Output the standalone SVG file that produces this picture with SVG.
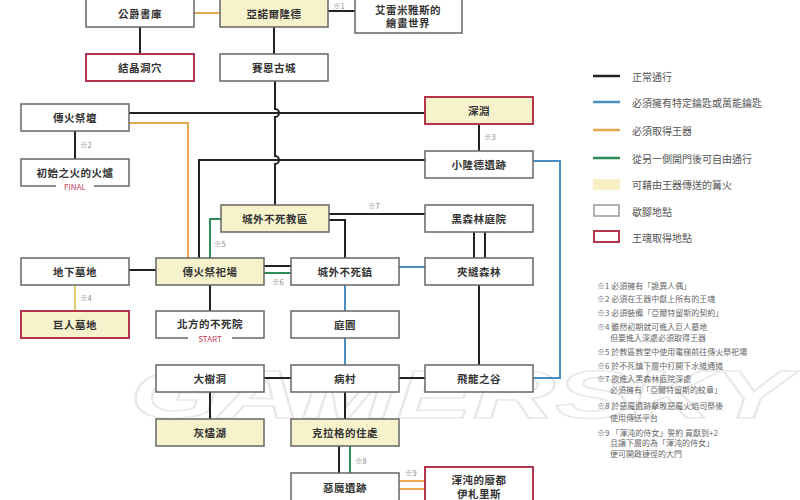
<svg xmlns="http://www.w3.org/2000/svg" width="800" height="500" viewBox="0 0 800 500">
<style>
.n rect{fill:#fff;stroke:#666;stroke-width:1.5}
.n.y rect{fill:#f6f2cc}
.n.r rect{stroke:#b4364c;stroke-width:2}
.t{font-family:"Noto Sans CJK TC","Noto Sans CJK SC",sans-serif;font-weight:bold;font-size:10.5px;fill:#333;text-anchor:middle;dominant-baseline:central;letter-spacing:0.5px}
.tag{font-family:"Noto Sans CJK TC",sans-serif;font-size:8px;fill:#c2405a;text-anchor:middle;dominant-baseline:central}
.c path,.c line{fill:none;stroke-width:2}
.k{stroke:#222}
.b{stroke:#4a8dc0}
.o{stroke:#e8a850}
.g{stroke:#2e8b57}
.yl{stroke:#e2cf72}
.s{font-family:"Noto Sans CJK TC",sans-serif;font-size:7.5px;fill:#888}
.lg{font-family:"Noto Sans CJK TC",sans-serif;font-size:10px;fill:#555;dominant-baseline:central}
.nt{font-family:"Noto Sans CJK TC",sans-serif;font-size:8px;fill:#666;dominant-baseline:central}
.wm{font-family:"Liberation Sans",sans-serif;font-weight:bold;font-style:italic;font-size:68px;fill:none;stroke:#e8e8e8;stroke-width:1.5}
</style>
<rect width="800" height="500" fill="#fff"/>
<text class="wm" x="130" y="418" textLength="660" lengthAdjust="spacingAndGlyphs">GAMERSKY</text>

<g class="c" id="connectors">
<line class="o" x1="194" y1="13" x2="220" y2="13"/>
<line class="k" x1="328" y1="11" x2="355" y2="11"/>
<line class="k" x1="140" y1="27" x2="140" y2="54"/>
<line class="k" x1="274" y1="27" x2="274" y2="54"/>
<path class="k" d="M275 81 V109 a4 4 0 0 1 0 8 V156 a4 4 0 0 1 0 8 V205"/>
<line class="k" x1="129" y1="113" x2="425" y2="113"/>
<path class="o" d="M129 123 H188 V258"/>
<line class="k" x1="75" y1="131" x2="75" y2="159"/>
<path class="k" d="M199 258 V160 H425"/>
<path class="g" d="M210 258 V219 H221"/>
<line class="k" x1="264" y1="266" x2="291" y2="266"/>
<line class="g" x1="264" y1="273" x2="291" y2="273"/>
<line class="k" x1="129" y1="270" x2="156" y2="270"/>
<line class="k" x1="210" y1="285" x2="210" y2="311"/>
<line class="yl" x1="75" y1="285" x2="75" y2="311"/>
<line class="k" x1="329" y1="214" x2="425" y2="214"/>
<path class="k" d="M329 220 H345 V258"/>
<line class="k" x1="474" y1="232" x2="474" y2="258"/>
<line class="k" x1="485" y1="232" x2="485" y2="258"/>
<line class="b" x1="399" y1="267" x2="425" y2="267"/>
<line class="b" x1="345" y1="285" x2="345" y2="311"/>
<line class="b" x1="345" y1="338" x2="345" y2="365"/>
<line class="k" x1="479" y1="285" x2="479" y2="365"/>
<path class="b" d="M533 161 H560 V378 H533"/>
<line class="k" x1="479" y1="124" x2="479" y2="151"/>
<line class="k" x1="264" y1="378" x2="291" y2="378"/>
<line class="k" x1="399" y1="378" x2="425" y2="378"/>
<line class="k" x1="210" y1="392" x2="210" y2="419"/>
<line class="k" x1="345" y1="392" x2="345" y2="419"/>
<line class="k" x1="339" y1="446" x2="339" y2="473"/>
<line class="g" x1="350" y1="446" x2="350" y2="473"/>
<line class="o" x1="399" y1="481" x2="425" y2="481"/>
<line class="o" x1="399" y1="489" x2="425" y2="489"/>
<text class="s" x="333" y="9">※1</text>
<text class="s" x="80" y="148">※2</text>
<text class="s" x="484" y="140">※3</text>
<text class="s" x="80" y="301">※4</text>
<text class="s" x="214" y="247">※5</text>
<text class="s" x="272" y="285">※6</text>
<text class="s" x="368" y="209">※7</text>
<text class="s" x="355" y="464">※8</text>
<text class="s" x="405" y="476">※9</text>
</g>

<g class="n" id="gongjue"><rect x="86" y="-2" width="108" height="29"/><text class="t" x="140" y="13">公爵書庫</text></g>
<g class="n y" id="yanuo"><rect x="220" y="-2" width="108" height="29"/><text class="t" x="274" y="13">亞諾爾隆德</text></g>
<g class="n" id="aileimi"><rect x="355" y="-2" width="107" height="35"/><text class="t" x="408" y="9">艾雷米雅斯的</text><text class="t" x="408" y="22">繪畫世界</text></g>
<g class="n r" id="jiejing"><rect x="86" y="54" width="108" height="27"/><text class="t" x="140" y="67.5">結晶洞穴</text></g>
<g class="n" id="saien"><rect x="220" y="54" width="108" height="27"/><text class="t" x="274" y="67.5">賽恩古城</text></g>
<g class="n" id="jitan"><rect x="21" y="104" width="108" height="27"/><text class="t" x="75" y="117.5">傳火祭壇</text></g>
<g class="n" id="chushi"><rect x="21" y="159" width="108" height="27"/><text class="t" x="75" y="172">初始之火的火爐</text><rect x="56" y="181" width="38" height="10" style="stroke:none"/><text class="tag" x="75" y="186">FINAL</text></g>
<g class="n y r" id="shenyuan"><rect x="425" y="97" width="108" height="27"/><text class="t" x="479" y="110.5">深淵</text></g>
<g class="n" id="xiaolongde"><rect x="425" y="151" width="108" height="27"/><text class="t" x="479" y="164.5">小隆德遺跡</text></g>
<g class="n y" id="jiaoqu"><rect x="221" y="205" width="108" height="27"/><text class="t" x="275" y="218.5">城外不死教區</text></g>
<g class="n" id="heisenlin"><rect x="425" y="205" width="108" height="27"/><text class="t" x="479" y="218.5">黑森林庭院</text></g>
<g class="n y" id="jisichang"><rect x="156" y="258" width="108" height="27"/><text class="t" x="210" y="271.5">傳火祭祀場</text></g>
<g class="n" id="bushizhen"><rect x="291" y="258" width="108" height="27"/><text class="t" x="345" y="271.5">城外不死鎮</text></g>
<g class="n" id="jiafeng"><rect x="425" y="258" width="108" height="27"/><text class="t" x="479" y="271.5">夾縫森林</text></g>
<g class="n" id="dixia"><rect x="21" y="258" width="108" height="27"/><text class="t" x="75" y="271.5">地下墓地</text></g>
<g class="n y r" id="juren"><rect x="21" y="311" width="108" height="27"/><text class="t" x="75" y="324.5">巨人墓地</text></g>
<g class="n" id="beifang"><rect x="156" y="311" width="108" height="27"/><text class="t" x="210" y="323">北方的不死院</text><rect x="188" y="333" width="44" height="10" style="stroke:none"/><text class="tag" x="210" y="338">START</text></g>
<g class="n" id="tingyuan"><rect x="291" y="311" width="108" height="27"/><text class="t" x="345" y="324.5">庭園</text></g>
<g class="n" id="dashudong"><rect x="156" y="365" width="108" height="27"/><text class="t" x="210" y="378.5">大樹洞</text></g>
<g class="n" id="bingcun"><rect x="291" y="365" width="108" height="27"/><text class="t" x="345" y="378.5">病村</text></g>
<g class="n" id="feilong"><rect x="425" y="365" width="108" height="27"/><text class="t" x="479" y="378.5">飛龍之谷</text></g>
<g class="n y" id="huijin"><rect x="156" y="419" width="108" height="27"/><text class="t" x="210" y="432.5">灰燼湖</text></g>
<g class="n y" id="kelage"><rect x="291" y="419" width="108" height="27"/><text class="t" x="345" y="432.5">克拉格的住處</text></g>
<g class="n" id="emo"><rect x="291" y="473" width="108" height="30"/><text class="t" x="345" y="487">惡魔遺跡</text></g>
<g class="n r" id="yizha"><rect x="425" y="467" width="108" height="36"/><text class="t" x="479" y="479">渾沌的廢都</text><text class="t" x="479" y="493">伊札里斯</text></g>

<g id="legend">
<line x1="593" y1="76" x2="620" y2="76" stroke="#222" stroke-width="2.5"/>
<text class="lg" x="632" y="76">正常通行</text>
<line x1="593" y1="102" x2="620" y2="102" stroke="#4a8dc0" stroke-width="2.5"/>
<text class="lg" x="632" y="102">必須擁有特定鑰匙或萬能鑰匙</text>
<line x1="593" y1="130" x2="620" y2="130" stroke="#e8a850" stroke-width="2.5"/>
<text class="lg" x="632" y="130">必須取得王器</text>
<line x1="593" y1="158" x2="620" y2="158" stroke="#2e8b57" stroke-width="2.5"/>
<text class="lg" x="632" y="158">從另一側開門後可自由通行</text>
<rect x="593" y="179" width="27" height="11" fill="#f8f0c4"/>
<text class="lg" x="632" y="184">可藉由王器傳送的篝火</text>
<rect x="594" y="205" width="25" height="11" fill="#fff" stroke="#999" stroke-width="1.5"/>
<text class="lg" x="632" y="211">歇腳地點</text>
<rect x="594" y="231" width="25" height="11" fill="#fff" stroke="#b4364c" stroke-width="2"/>
<text class="lg" x="632" y="237">王魂取得地點</text>
</g>

<g id="notes">
<text class="nt" x="597" y="285">※1  必須擁有「詭異人偶」</text>
<text class="nt" x="597" y="298">※2  必須在王器中獻上所有的王魂</text>
<text class="nt" x="597" y="312">※3  必須裝備「亞爾特留斯的契約」</text>
<text class="nt" x="597" y="326">※4  雖然初期就可進入巨人墓地</text>
<text class="nt" x="610" y="337">但要進入深處必須取得王器</text>
<text class="nt" x="597" y="351">※5  於教區教堂中使用電梯前往傳火祭祀場</text>
<text class="nt" x="597" y="365">※6  於不死鎮下層中打開下水道通道</text>
<text class="nt" x="597" y="378">※7  欲進入黑森林庭院深處</text>
<text class="nt" x="610" y="389">必須擁有「亞爾特留斯的紋章」</text>
<text class="nt" x="597" y="405">※8  於惡魔遺跡擊敗惡魔火焰司祭後</text>
<text class="nt" x="610" y="417">使用傳送平台</text>
<text class="nt" x="597" y="432">※9  「渾沌的侍女」誓約 貢獻到+2</text>
<text class="nt" x="610" y="442">且讓下層的為「渾沌的侍女」</text>
<text class="nt" x="610" y="453">便可開啟捷徑的大門</text>
</g>
</svg>
